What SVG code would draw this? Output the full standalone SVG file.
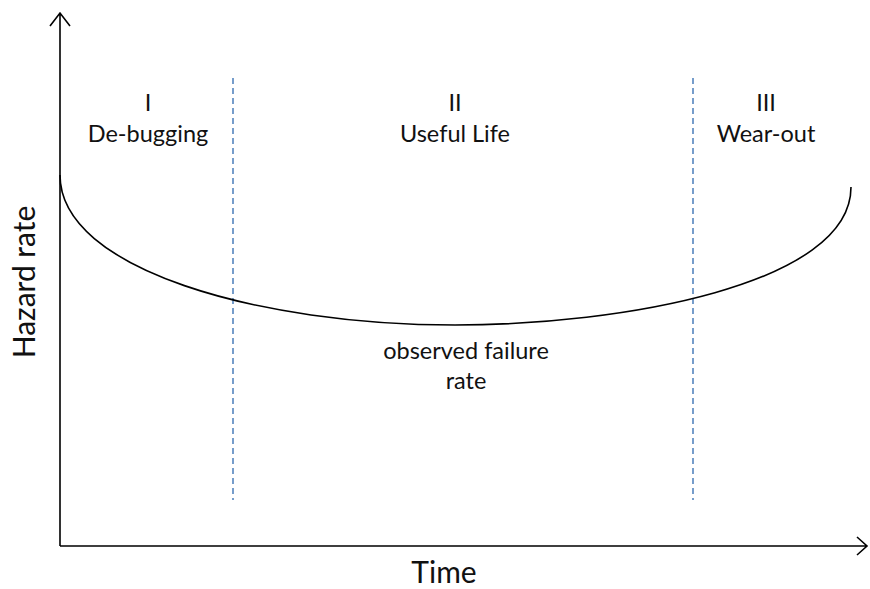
<svg xmlns="http://www.w3.org/2000/svg" width="870" height="589" viewBox="0 0 870 589">
<style>
.t{font-family:"Lato","Open Sans","Liberation Sans",sans-serif;fill:#111;text-anchor:middle}
.s{font-size:23.5px}
.b{font-size:30px}
.ax{stroke:#000;stroke-width:1.6;fill:none}
.d{stroke:#4a7ebb;stroke-width:1.5;stroke-dasharray:6,4;fill:none}
</style>
<rect width="870" height="589" fill="#fff"/>
<g id="axes">
<path class="ax" d="M60,546 V13 M50,26 L60,13 L70,26"/>
<path class="ax" d="M60,546 H867 M857,537 L867,546 L857,555"/>
</g>
<g id="connectors">
<line class="d" x1="233" y1="78" x2="233" y2="500"/>
<line class="d" x1="693" y1="78" x2="693" y2="500"/>
<path id="curve" fill="none" stroke="#000" stroke-width="1.6" d="M60,175 C60,270 260,325 455,325 C620,325 851,285 851,187"/>
</g>
<g id="phase1"><text class="t s" x="148" y="111">I</text><text class="t s" x="148" y="142">De-bugging</text></g>
<g id="phase2"><text class="t s" x="455" y="111">II</text><text class="t s" x="455" y="142">Useful Life</text></g>
<g id="phase3"><text class="t s" x="766" y="111">III</text><text class="t s" x="766" y="142">Wear-out</text></g>
<g id="label"><text class="t s" x="466" y="359">observed failure</text><text class="t s" x="466" y="389">rate</text></g>
<g id="ylabel"><text class="t b" transform="translate(35,282) rotate(-90)">Hazard rate</text></g>
<g id="xlabel"><text class="t b" x="444" y="583">Time</text></g>
</svg>
